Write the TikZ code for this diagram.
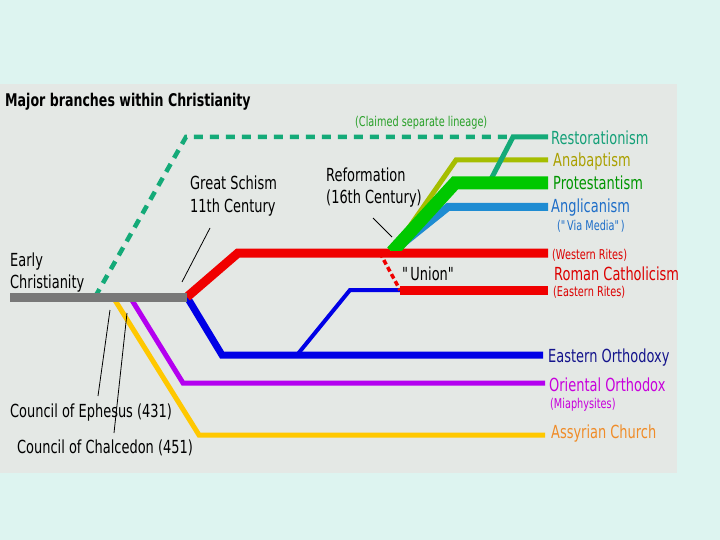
\documentclass[tikz,border=0pt]{standalone}
\usepackage{fontspec}
\setmainfont[FakeStretch=0.72]{DejaVu Sans}
\usetikzlibrary{positioning}

\definecolor{slidebg}{RGB}{221,244,240}
\definecolor{panelbg}{RGB}{228,232,229}
\definecolor{earlygray}{RGB}{120,120,120}
\definecolor{restgreen}{RGB}{20,170,120}
\definecolor{anagreen}{RGB}{165,190,0}
\definecolor{protgreen}{RGB}{0,200,0}
\definecolor{angblue}{RGB}{30,140,210}
\definecolor{catred}{RGB}{240,0,0}
\definecolor{orthblue}{RGB}{0,0,230}
\definecolor{oripurple}{RGB}{180,0,240}
\definecolor{assyellow}{RGB}{255,200,0}
\definecolor{resttext}{RGB}{20,160,120}
\definecolor{anatext}{RGB}{170,160,0}
\definecolor{prottext}{RGB}{0,150,0}
\definecolor{angtext}{RGB}{30,110,200}
\definecolor{cattext}{RGB}{220,0,0}
\definecolor{orthtext}{RGB}{20,20,140}
\definecolor{oritext}{RGB}{200,0,220}
\definecolor{asstext}{RGB}{240,140,40}
\definecolor{claimtext}{RGB}{40,160,40}

\tikzset{
  branch/.style={line width=#1, line join=miter},
  pointer/.style={black, line width=0.8pt},
  lbl/.style={inner sep=0pt, anchor=base west, font=\fontsize{18}{22}\selectfont, align=left},
  small lbl/.style={inner sep=0pt, anchor=base west, font=\fontsize{13.5}{15}\selectfont},
}

\begin{document}
\begin{tikzpicture}[x=1pt,y=-1pt]
\fill[slidebg] (0,0) rectangle (720,540);
\fill[panelbg] (0,84) rectangle (677,473);

\coordinate (early) at (10,297);
\coordinate (schism) at (187,297);
\coordinate (reform) at (392,252);
\coordinate (union) at (400,290);

% claimed separate lineage
\draw[branch=4.5, restgreen, dash pattern=on 9pt off 7pt] (95,297) -- (186,137) -- (508,137);

% church of the east and oriental
\draw[branch=5, assyellow] (113,297) -- (199,435) -- (545,435);
\draw[branch=5, oripurple] (130,297) -- (183,383) -- (545,383);

% east and west
\draw[branch=7, orthblue] (schism) -- (222,355) -- (543,355);
\draw[branch=4, orthblue] (297,355) -- (350,290) -- (union);
\draw[branch=9, catred] (schism) -- (238,253) -- (548,253);
\draw[branch=3.5, catred, dash pattern=on 5pt off 3pt] (380,253) -- (union);
\draw[branch=9, catred] (union) -- (548,290);
\draw[branch=9, earlygray] (early) -- (schism);

% reformation
\begin{scope}
\clip (370,100) rectangle (560,250);
\draw[branch=8, angblue] (reform) -- (448,207) -- (548,207);
\draw[branch=5, anagreen] (reform) -- (456,160) -- (548,160);
\draw[branch=5, restgreen] (489,183) -- (513,137) -- (548,137);
\draw[branch=13, protgreen] (reform) -- (455,183) -- (548,183);
\end{scope}

% labels
\node[lbl, font=\fontsize{17.5}{22}\bfseries] (title) at (5,107) {Major branches within Christianity};
\node[lbl] (earlylbl) at (10,288) {Early\\Christianity};
\node[lbl] (schismlbl) at (190,212) {Great Schism\\11th Century};
\node[lbl] (reformlbl) at (326,204) {Reformation\\(16th Century)};
\node[lbl] (unionlbl) at (402,280) {\textquotedbl Union\textquotedbl};
\node[lbl] (ephesuslbl) at (10,417) {Council of Ephesus (431)};
\node[lbl] (chalcedonlbl) at (17,453) {Council of Chalcedon (451)};

\foreach \nm/\xx/\yy/\col/\txt in {
  resto/551/145/resttext/Restorationism,
  ana/553/167/anatext/Anabaptism,
  prot/553/190/prottext/Protestantism,
  angl/551/213/angtext/Anglicanism,
  roman/554/280/cattext/Roman Catholicism,
  orth/548/362/orthtext/Eastern Orthodoxy,
  ori/549/391/oritext/Oriental Orthodox,
  assy/551/438/asstext/Assyrian Church}{
  \node[lbl, text=\col] (\nm) at (\xx,\yy) {\txt};
}

\foreach \nm/\xx/\yy/\col/\txt in {
  claimed/355/127/claimtext/(Claimed separate lineage),
  viamedia/557/230/angtext/(\textquotedbl Via Media\textquotedbl),
  western/552/259/cattext/(Western Rites),
  eastern/553/296/cattext/(Eastern Rites),
  miaph/550/408/oritext/(Miaphysites)}{
  \node[small lbl, text=\col] (\nm) at (\xx,\yy) {\txt};
}

% pointers
\coordinate (schism foot) at (210,228);
\coordinate (schism tip) at (182,282);
\coordinate (reform foot) at (373,218);
\coordinate (reform tip) at (392,237);
\coordinate (ephesus tip) at (110,310);
\coordinate (ephesus foot) at (98,396);
\coordinate (chalcedon tip) at (127,313);
\coordinate (chalcedon foot) at (114,433);
\draw[pointer] (schism foot) -- (schism tip);
\draw[pointer] (reform foot) -- (reform tip);
\draw[pointer] (ephesus tip) -- (ephesus foot);
\draw[pointer] (chalcedon tip) -- (chalcedon foot);
\end{tikzpicture}
\end{document}
